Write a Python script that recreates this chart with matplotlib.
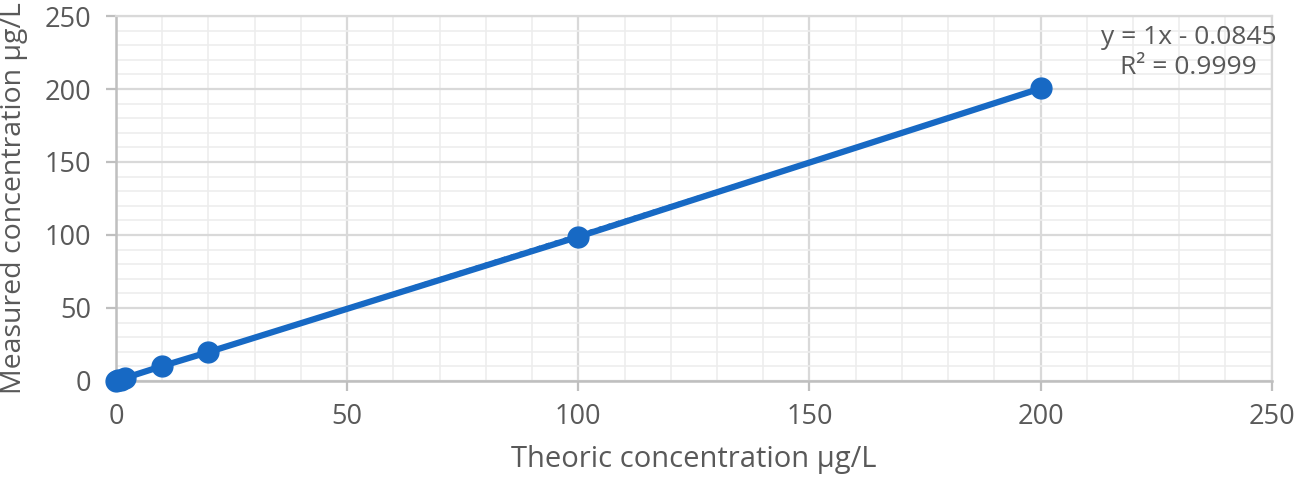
import numpy as np
import matplotlib.pyplot as plt
from matplotlib.ticker import MultipleLocator

# calibration data
theoric = [0, 0.5, 1, 2, 10, 20, 100, 200]
measured = [0.1, 0.4, 1.0, 2.1, 10.2, 19.8, 98.8, 200.4]
fit_slope = 1.0
fit_icpt = -0.0845
eq_text = 'y = 1x - 0.0845\nR² = 0.9999'

blue = '#1769C4'
grid_c = '#D9D9D9'
txt_c = '#595959'

plt.rcParams['font.family'] = ['Open Sans', 'DejaVu Sans']

fig = plt.figure(figsize=(12.95, 4.78), dpi=100)
ax = fig.add_axes([0.0896, 0.203, 0.8924, 0.7635])

ax.set_xlim(0, 250)
ax.set_ylim(0, 250)
ax.xaxis.set_major_locator(MultipleLocator(50))
ax.yaxis.set_major_locator(MultipleLocator(50))
ax.xaxis.set_minor_locator(MultipleLocator(10))
ax.yaxis.set_minor_locator(MultipleLocator(10))
ax.grid(which='major', color=grid_c, lw=1.6)
ax.grid(which='minor', color='#EDEDED', lw=1.2)
ax.set_axisbelow(True)

for s in ['top', 'right']:
    ax.spines[s].set_color(grid_c)
    ax.spines[s].set_linewidth(1.6)
for s in ['left', 'bottom']:
    ax.spines[s].set_color('#BFBFBF')
    ax.spines[s].set_linewidth(1.8)

ax.tick_params(which='major', length=7, width=1.6, color='#BFBFBF',
               labelsize=19.5, labelcolor=txt_c)
ax.tick_params(axis='x', pad=9)
ax.tick_params(axis='y', pad=11)
ax.tick_params(which='minor', length=0)

# series with markers
ax.plot(theoric, measured, color=blue, lw=4.5, marker='o', ms=15,
        clip_on=False, zorder=4)
# linear trendline
xt = np.array([0, 200])
ax.plot(xt, fit_slope * xt + fit_icpt, color='#1F5FA8', lw=2.5, ls=':',
        zorder=3)

ax.text(0.928, 0.975, eq_text, transform=ax.transAxes, ha='center',
        va='top', fontsize=19, color=txt_c, linespacing=1.25)

ax.set_xlabel('Theoric concentration µg/L', fontsize=21, color=txt_c)
ax.set_ylabel('Measured concentration µg/L', fontsize=20.5, color=txt_c)
ax.xaxis.set_label_coords(0.5, -0.175)
ax.yaxis.set_label_coords(-0.076, 0.5)

fig.savefig('out.png', dpi=100)
